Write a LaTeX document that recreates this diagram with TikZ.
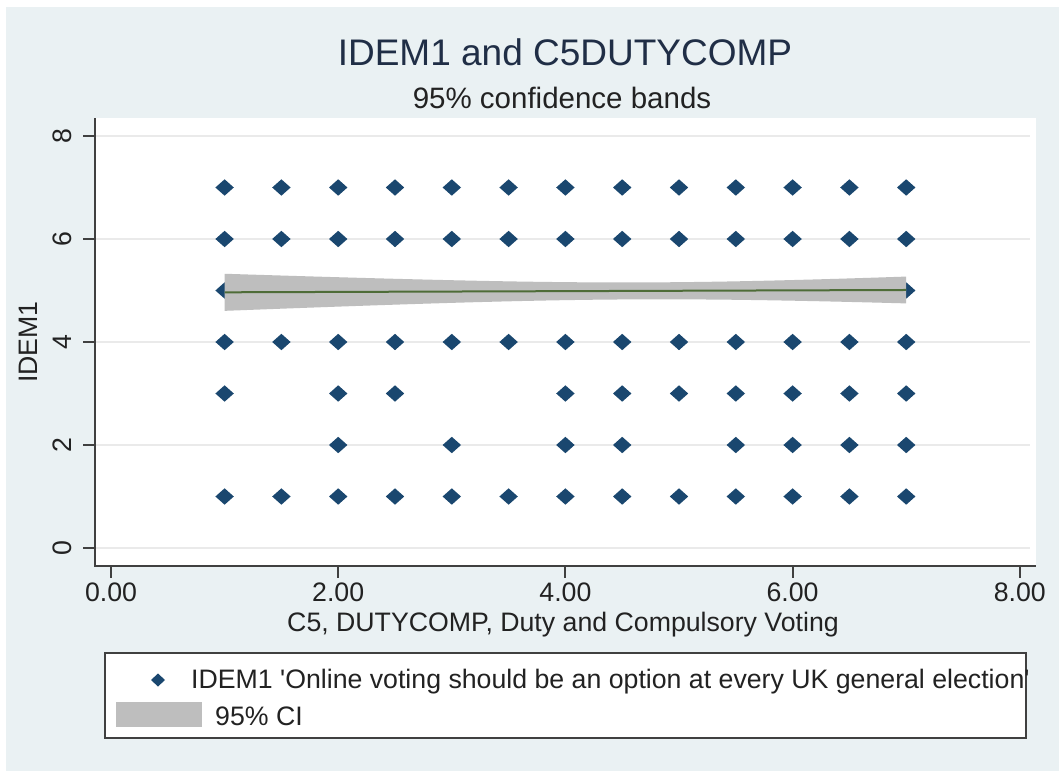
\documentclass[tikz,border=0pt]{standalone}
\usepackage{fontspec}
\setmainfont{Liberation Sans}
\newfontfamily\lsans{Liberation Sans}
\definecolor{bgcol}{RGB}{234,241,243}
\definecolor{markcol}{RGB}{26,71,111}
\definecolor{cigray}{RGB}{190,190,190}
\definecolor{fitcol}{RGB}{78,108,56}
\definecolor{axiscol}{RGB}{64,64,64}
\definecolor{gridcol}{RGB}{234,234,234}
\definecolor{txtcol}{RGB}{34,34,34}
\definecolor{titlecol}{RGB}{32,46,70}
\newcommand\plotdiamond[3]{%
  \fill[markcol] ({111+113.6*#1},{548-51.5*#2}) +(-9.2*#3,0) -- +(0,-8.2*#3) -- +(9.2*#3,0) -- +(0,8.2*#3) -- cycle;}
\begin{document}
\begin{tikzpicture}[x=1pt,y=-1pt,
  lbl/.style={font=\lsans\fontsize{26.7}{32}\selectfont, text=txtcol, inner sep=0pt},
  titletxt/.style={font=\lsans\fontsize{37}{44}\selectfont, text=titlecol, inner sep=0pt},
  axisline/.style={draw=axiscol, line width=2pt},
  gridline/.style={draw=gridcol, line width=1.2pt},
  fitline/.style={draw=fitcol, line width=2pt},
  legbox/.style={draw=axiscol, line width=2pt, fill=white}]
\useasboundingbox (0,0) rectangle (1059,771);
\fill[white] (0,0) rectangle (1059,771);
\fill[bgcol] (6,7) rectangle (1059,771);
% plot region
\fill[white] (95,118) rectangle (1036,566);
\foreach \v in {0,2,4,6,8} \draw[gridline] (95,{548-51.5*\v}) -- (1030,{548-51.5*\v});
% titles
\node[titletxt, anchor=base] (title) at (565,65) {IDEM1 and C5DUTYCOMP};
\node[lbl, anchor=base, font=\lsans\fontsize{29.5}{34}\selectfont] (subtitle) at (562,108) {95\% confidence bands};
% points
\foreach \yy/\xs in {7/{1,1.5,2,2.5,3,3.5,4,4.5,5,5.5,6,6.5,7},
                     6/{1,1.5,2,2.5,3,3.5,4,4.5,5,5.5,6,6.5,7},
                     5/{1,7},
                     4/{1,1.5,2,2.5,3,3.5,4,4.5,5,5.5,6,6.5,7},
                     3/{1,2,2.5,4,4.5,5,5.5,6,6.5,7},
                     2/{2,3,4,4.5,5.5,6,6.5,7},
                     1/{1,1.5,2,2.5,3,3.5,4,4.5,5,5.5,6,6.5,7}}{
  \foreach \xx in \xs { \plotdiamond{\xx}{\yy}{1} }
}
% CI band
\fill[cigray] plot[domain=1:7,samples=31] ({111+113.6*\x},{548-51.5*(4.965+0.0075*(\x-1)+sqrt(0.027+0.00758*(\x-4.68)*(\x-4.68)))})
  -- plot[domain=7:1,samples=31] ({111+113.6*\x},{548-51.5*(4.965+0.0075*(\x-1)-sqrt(0.027+0.00758*(\x-4.68)*(\x-4.68)))}) -- cycle;
\coordinate (fitA) at ({111+113.6*1},{548-51.5*4.965});
\coordinate (fitB) at ({111+113.6*7},{548-51.5*5.01});
\draw[fitline] (fitA) -- (fitB);
% axes
\draw[axisline] (95,118) -- (95,566) -- (1036,566);
\foreach \v in {0,2,4,6,8} {
  \draw[axisline] (83,{548-51.5*\v}) -- (95,{548-51.5*\v});
  \node[lbl, rotate=90, anchor=base] (ylab\v) at (71,{548-51.5*\v}) {\v};
}
\foreach \v in {0,2,4,6,8} {
  \draw[axisline] ({111+113.6*\v},566) -- ({111+113.6*\v},578);
  \node[lbl, anchor=base] (xlab\v) at ({111+113.6*\v},601) {\v.00};
}
\node[lbl, anchor=base] (xtitle) at (563,631) {C5, DUTYCOMP, Duty and Compulsory Voting};
\node[lbl, rotate=90, anchor=base] (ytitle) at (37,342) {IDEM1};
% legend
\draw[legbox] (105,653) rectangle (1026,738);
\fill[markcol] (158,680) +(-7,0) -- +(0,-6.5) -- +(7,0) -- +(0,6.5) -- cycle;
\node[lbl, anchor=base west] (leg1) at (191,688) {IDEM1 'Online voting should be an option at every UK general election'};
\fill[cigray] (116,702) rectangle (202,727);
\node[lbl, anchor=base west] (leg2) at (215,725) {95\% CI};
\end{tikzpicture}
\end{document}
